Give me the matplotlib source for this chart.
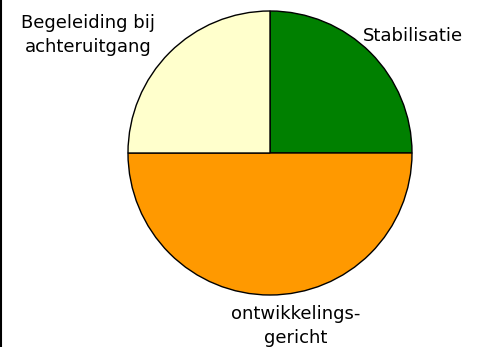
import matplotlib.pyplot as plt

# Share of each care profile
labels = ['Stabilisatie', 'ontwikkelings-\ngericht', 'Begeleiding bij\nachteruitgang']
values = [25, 50, 25]
colors = ['#008000', '#FF9900', '#FFFFCC']

fig = plt.figure(figsize=(4.8, 3.47), dpi=100)
ax = fig.add_axes([0, 0, 1, 1])

ax.pie(values, colors=colors, startangle=90, counterclock=False,
       center=(270, 194), radius=142, frame=True,
       wedgeprops=dict(edgecolor='black', linewidth=1))
ax.set_xlim(0, 480)
ax.set_ylim(0, 347)
ax.set_aspect('equal')
ax.axis('off')

# label positions around the pie
fs = 13
ax.text(413, 311, labels[0], ha='center', va='center', fontsize=fs)
ax.text(296, 21, labels[1], ha='center', va='center', fontsize=fs, linespacing=1.4)
ax.text(88, 312, labels[2], ha='center', va='center', fontsize=fs, linespacing=1.4)

# frame line down the left edge
ax.plot([1, 1], [0, 347], color='black', linewidth=1.5)

fig.savefig('out.png', dpi=100)
